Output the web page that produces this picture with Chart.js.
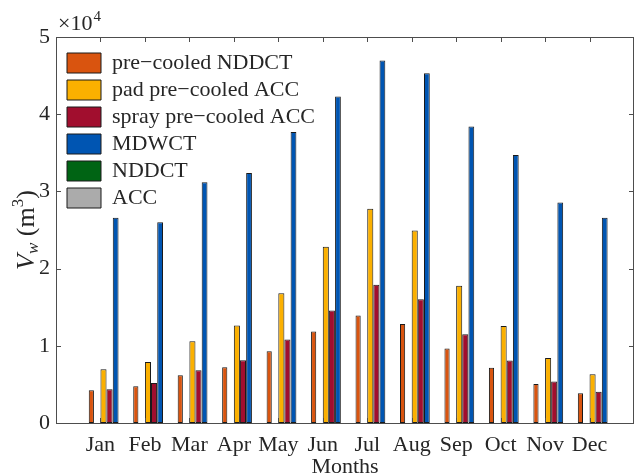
<!DOCTYPE html>
<html>
<head>
<meta charset="utf-8">
<script src="https://cdn.jsdelivr.net/npm/chart.js@4/dist/chart.umd.min.js"></script>
<style>
  body { margin: 0; background: #fff; }
  #wrap { width: 635px; height: 475px; }
</style>
</head>
<body>
<div id="wrap"><canvas id="barChart" width="635" height="475"></canvas></div>
<script>
// Данные графика (объём воды V_w, м³, по месяцам)
const months = ['Jan', 'Feb', 'Mar', 'Apr', 'May', 'Jun', 'Jul', 'Aug', 'Sep', 'Oct', 'Nov', 'Dec'];
const preCooledNDDCT = [4250, 4770, 6190, 7220, 9280, 11860, 13920, 12840, 9640, 7170, 5060, 3850];
const padPreCooledACC = [6960, 7900, 10600, 12630, 16800, 22830, 27760, 24940, 17770, 12580, 8430, 6310];
const sprayPreCooledACC = [4380, 5190, 6830, 8120, 10820, 14560, 17900, 16040, 11500, 8080, 5360, 4060];
const mdwct = [26600, 26000, 31170, 32380, 37700, 42300, 46950, 45300, 38400, 34700, 28570, 26600];
const nddct = [0, 0, 0, 0, 0, 0, 0, 0, 0, 0, 0, 0];
const acc = [0, 0, 0, 0, 0, 0, 0, 0, 0, 0, 0, 0];

const FONT = 'Liberation Serif';
const AXIS = '#4d4d4d';

// порядок в легенде отличается от порядка столбцов в группе
const legendOrder = ['pre\u2212cooled NDDCT', 'pad pre\u2212cooled ACC', 'spray pre\u2212cooled ACC', 'MDWCT', 'NDDCT', 'ACC'];

function points(values) {
    return values.map((v, i) => ({ x: i + 1, y: v }));
}

function makeSet(label, values, color, barPct) {
    return {
        label: label,
        data: points(values),
        backgroundColor: color,
        borderColor: '#1a1a1a',
        borderWidth: 1,
        borderSkipped: false,
        barPercentage: barPct
    };
}

// Внутренние риски по всем сторонам + рамка осей
const axesBox = {
    id: 'axesBox',
    afterLayout(chart) {
        // легенда 'chartArea' сбрасывает top в 0 — ставим её внутрь области
        chart.legend.left = chart.chartArea.left + 6;
        chart.legend.top = chart.chartArea.top + 10;
    },
    afterDatasetsDraw(chart) {
        const { ctx, chartArea: a, scales } = chart;
        ctx.save();
        ctx.strokeStyle = AXIS;
        ctx.lineWidth = 1;
        ctx.beginPath();
        for (let m = 1; m <= months.length; m++) {
            const px = Math.round(scales.x.getPixelForValue(m)) + 0.5;
            ctx.moveTo(px, a.bottom); ctx.lineTo(px, a.bottom - 5);
            ctx.moveTo(px, a.top); ctx.lineTo(px, a.top + 5);
        }
        for (let v = 10000; v < 50000; v += 10000) {
            const py = Math.round(scales.y.getPixelForValue(v)) + 0.5;
            ctx.moveTo(a.left, py); ctx.lineTo(a.left + 5, py);
            ctx.moveTo(a.right, py); ctx.lineTo(a.right - 5, py);
        }
        ctx.stroke();
        ctx.strokeRect(Math.round(a.left) + 0.5, Math.round(a.top) + 0.5,
            Math.round(a.right - a.left) - 1, Math.round(a.bottom - a.top));
        ctx.restore();
    },
    afterDraw(chart) {
        const { ctx, chartArea: a } = chart;
        ctx.save();
        ctx.fillStyle = '#262626';
        ctx.textBaseline = 'alphabetic';
        // множитель оси ×10^4
        ctx.font = `22px "${FONT}"`;
        ctx.textAlign = 'left';
        ctx.fillText('\u00d710', a.left + 2, 30);
        const w = ctx.measureText('\u00d710').width;
        ctx.font = `15px "${FONT}"`;
        ctx.fillText('4', a.left + 3 + w, 21);

        // подпись оси Y: V_w (m^3)
        ctx.translate(34, (a.top + a.bottom) / 2);
        ctx.rotate(-Math.PI / 2);
        const parts = [
            { t: 'V', f: `italic 26px "${FONT}"`, dy: 0 },
            { t: 'w', f: `italic 17px "${FONT}"`, dy: 4 },
            { t: ' (m', f: `26px "${FONT}"`, dy: 0 },
            { t: '3', f: `17px "${FONT}"`, dy: -11 },
            { t: ')', f: `26px "${FONT}"`, dy: 0 }
        ];
        let total = 0;
        parts.forEach(p => { ctx.font = p.f; p.w = ctx.measureText(p.t).width; total += p.w; });
        let x = -total / 2;
        parts.forEach(p => { ctx.font = p.f; ctx.fillText(p.t, x, p.dy); x += p.w; });
        ctx.restore();
    }
};

const ctx = document.getElementById('barChart').getContext('2d');
new Chart(ctx, {
    type: 'bar',
    data: {
        datasets: [
            makeSet('NDDCT', nddct, '#006414', 0.8),
            makeSet(legendOrder[0], preCooledNDDCT, '#D9540F', 0.85),
            makeSet('ACC', acc, '#ABABAB', 0.8),
            makeSet(legendOrder[1], padPreCooledACC, '#FBB000', 1.0),
            makeSet(legendOrder[2], sprayPreCooledACC, '#A10E2E', 1.0),
            makeSet(legendOrder[3], mdwct, '#0055B2', 0.95)
        ]
    },
    options: {
        responsive: false,
        devicePixelRatio: 1,
        animation: false,
        layout: { padding: { top: 37, right: 1, left: 0, bottom: 0 } },
        plugins: {
            tooltip: { enabled: false },
            legend: {
                position: 'chartArea',
                align: 'start',
                labels: {
                    boxWidth: 34,
                    boxHeight: 20,
                    padding: 5,
                    color: '#262626',
                    font: { family: FONT, size: 22 },
                    sort: (a, b) => legendOrder.indexOf(a.text) - legendOrder.indexOf(b.text)
                }
            }
        },
        datasets: { bar: { categoryPercentage: 0.82 } },
        scales: {
            x: {
                type: 'linear',
                min: 0,
                max: 13,
                offset: false,
                grid: { display: false, drawTicks: false },
                border: { display: false },
                ticks: {
                    stepSize: 1,
                    autoSkip: false,
                    maxRotation: 0,
                    padding: 9,
                    color: '#262626',
                    font: { family: FONT, size: 22 },
                    callback: v => months[v - 1] || ''
                },
                title: {
                    display: true,
                    text: 'Months',
                    color: '#262626',
                    font: { family: FONT, size: 22 },
                    padding: { top: 0, bottom: -5 }
                },
                afterFit: s => { s.height = 52; s.paddingLeft = 0; s.paddingRight = 0; }
            },
            y: {
                min: 0,
                max: 50000,
                grid: { display: false, drawTicks: false },
                border: { display: false },
                ticks: {
                    stepSize: 10000,
                    padding: 6,
                    color: '#262626',
                    font: { family: FONT, size: 22 },
                    callback: v => v / 10000
                },
                afterFit: s => { s.width = 56; s.paddingTop = 0; s.paddingBottom = 0; }
            }
        }
    },
    plugins: [axesBox]
});
</script>
</body>
</html>
